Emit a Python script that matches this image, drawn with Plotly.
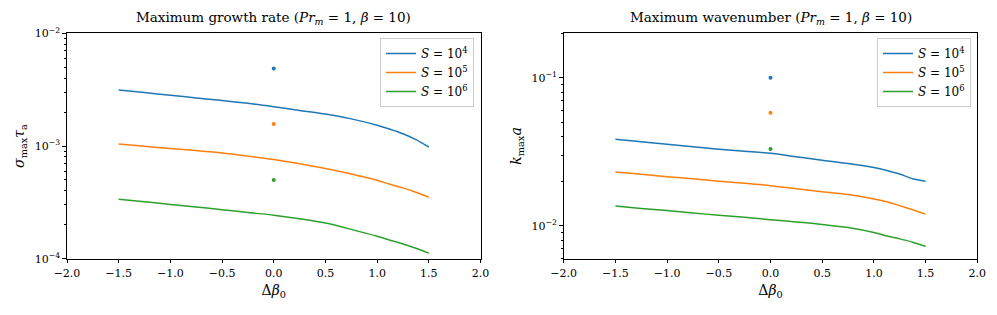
import plotly.graph_objects as go

# ---------------- data ----------------
delta_beta0 = [-1.5, -1.25, -1.0, -0.75, -0.5, -0.25, 0.0, 0.25, 0.5, 0.75, 1.0, 1.125, 1.25, 1.375, 1.5]

S_labels = ["<i>S</i> = 10<sup>4</sup>", "<i>S</i> = 10<sup>5</sup>", "<i>S</i> = 10<sup>6</sup>"]
colors = ["#1f77b4", "#ff7f0e", "#2ca02c"]

# maximum growth rate sigma_max * tau_a
sigma_S4 = [3.14e-3, 2.98e-3, 2.82e-3, 2.67e-3, 2.53e-3, 2.39e-3, 2.23e-3, 2.07e-3, 1.92e-3, 1.74e-3, 1.53e-3, 1.41e-3, 1.285e-3, 1.14e-3, 9.8e-4]
sigma_S5 = [1.04e-3, 9.95e-4, 9.5e-4, 9.1e-4, 8.67e-4, 8.13e-4, 7.59e-4, 6.97e-4, 6.31e-4, 5.65e-4, 4.97e-4, 4.57e-4, 4.25e-4, 3.89e-4, 3.51e-4]
sigma_S6 = [3.37e-4, 3.20e-4, 3.03e-4, 2.88e-4, 2.72e-4, 2.57e-4, 2.43e-4, 2.26e-4, 2.07e-4, 1.82e-4, 1.58e-4, 1.46e-4, 1.35e-4, 1.236e-4, 1.12e-4]

# maximum wavenumber k_max * a
k_S4 = [0.0385, 0.0370, 0.0356, 0.0342, 0.0329, 0.0319, 0.0309, 0.0293, 0.0278, 0.0264, 0.0248, 0.0237, 0.0224, 0.0208, 0.0200]
k_S5 = [0.0231, 0.0223, 0.0215, 0.0208, 0.0200, 0.0194, 0.0187, 0.0178, 0.0170, 0.0163, 0.0152, 0.01456, 0.0137, 0.01285, 0.0120]
k_S6 = [0.0136, 0.0131, 0.01268, 0.01222, 0.0118, 0.01143, 0.0110, 0.01064, 0.01023, 0.00975, 0.00902, 0.00855, 0.00817, 0.00776, 0.00728]

# single points at delta_beta0 = 0
dot_x = [0.0]
sigma_dots = [4.87e-3, 1.57e-3, 4.99e-4]
k_dots = [0.100, 0.058, 0.033]

x_ticks = [-2.0, -1.5, -1.0, -0.5, 0.0, 0.5, 1.0, 1.5, 2.0]
x_ticktext = ["−2.0", "−1.5", "−1.0", "−0.5", "0.0", "0.5", "1.0", "1.5", "2.0"]

# ---------------- figure ----------------
FONT = "DejaVu Serif"
fig = go.Figure()

sig_series = [sigma_S4, sigma_S5, sigma_S6]
k_series = [k_S4, k_S5, k_S6]

for i in range(3):
    fig.add_trace(go.Scatter(x=delta_beta0, y=sig_series[i], mode="lines", name=S_labels[i],
                             line=dict(color=colors[i], width=1.5, shape="spline", smoothing=0.8),
                             xaxis="x", yaxis="y", legend="legend"))
for i in range(3):
    fig.add_trace(go.Scatter(x=dot_x, y=[sigma_dots[i]], mode="markers", showlegend=False,
                             marker=dict(color=colors[i], size=4), xaxis="x", yaxis="y"))
for i in range(3):
    fig.add_trace(go.Scatter(x=delta_beta0, y=k_series[i], mode="lines", name=S_labels[i],
                             line=dict(color=colors[i], width=1.5, shape="spline", smoothing=0.8),
                             xaxis="x2", yaxis="y2", legend="legend2"))
for i in range(3):
    fig.add_trace(go.Scatter(x=dot_x, y=[k_dots[i]], mode="markers", showlegend=False,
                             marker=dict(color=colors[i], size=4), xaxis="x2", yaxis="y2"))

W, H = 997, 315
ydom = [1 - 258.7 / H, 1 - 33.3 / H]
xdom1 = [67.0 / W, 480.5 / W]
xdom2 = [563.7 / W, 977.3 / W]

def minor_log(lo_dec, hi_dec, extra=()):
    vals = []
    for d in range(lo_dec, hi_dec):
        for m in range(2, 10):
            vals.append(m * 10.0 ** d)
    return vals + list(extra)

common_x = dict(range=[-2, 2], tickvals=x_ticks, ticktext=x_ticktext, ticks="outside", ticklen=3.5,
                tickwidth=1, tickcolor="black", showline=True, linecolor="black", linewidth=1.2,
                mirror=True, showgrid=False, zeroline=False, automargin=False,
                tickfont=dict(family=FONT, size=11, color="black"),
                title=dict(text="Δ<i>β</i><sub>0</sub>", font=dict(family=FONT, size=14, color="black"), standoff=6))
common_y = dict(type="log", ticks="outside", ticklen=3.5, tickwidth=1, tickcolor="black", automargin=False,
                showline=True, linecolor="black", linewidth=1.2, mirror=True, showgrid=False, zeroline=False,
                tickfont=dict(family=FONT, size=11, color="black"))

fig.update_layout(
    width=W, height=H,
    margin=dict(l=0, r=0, t=0, b=0, autoexpand=False),
    paper_bgcolor="white", plot_bgcolor="white",
    font=dict(family=FONT, color="black"),
    xaxis=dict(domain=xdom1, anchor="y", **common_x),
    xaxis2=dict(domain=xdom2, anchor="y2", **common_x),
    yaxis=dict(domain=ydom, anchor="x", range=[-4, -2],
               tickvals=[1e-4, 1e-3, 1e-2],
               ticktext=["10<sup>−4</sup>", "10<sup>−3</sup>", "10<sup>−2</sup>"],
               minor=dict(tickvals=minor_log(-4, -2), ticks="outside", ticklen=2, tickcolor="black", showgrid=False),
               title=dict(text="<i>σ</i><sub>max</sub><i>τ</i><sub>a</sub>", font=dict(family=FONT, size=14, color="black"), standoff=6),
               **common_y),
    yaxis2=dict(domain=ydom, anchor="x2", range=[-2.2218, -0.699],
                tickvals=[1e-2, 1e-1],
                ticktext=["10<sup>−2</sup>", "10<sup>−1</sup>"],
                minor=dict(tickvals=minor_log(-3, -1, extra=(2e-1,)), ticks="outside", ticklen=2, tickcolor="black", showgrid=False),
                title=dict(text="<i>k</i><sub>max</sub><i>a</i>", font=dict(family=FONT, size=14, color="black"), standoff=6),
                **common_y),
    legend=dict(x=474 / W, y=1 - 38 / H, xanchor="right", yanchor="top", bgcolor="rgba(255,255,255,0.8)",
                bordercolor="#cccccc", borderwidth=1, font=dict(family=FONT, size=12, color="black"),
                tracegroupgap=0, itemwidth=30),
    legend2=dict(x=971 / W, y=1 - 38 / H, xanchor="right", yanchor="top", bgcolor="rgba(255,255,255,0.8)",
                 bordercolor="#cccccc", borderwidth=1, font=dict(family=FONT, size=12, color="black"),
                 tracegroupgap=0, itemwidth=30),
    annotations=[
        dict(text="Maximum growth rate (<i>Pr</i><sub><i>m</i></sub> = 1, <i>β</i> = 10)", x=(xdom1[0] + xdom1[1]) / 2,
             y=1 - 18 / H, xref="paper", yref="paper", showarrow=False, xanchor="center", yanchor="middle",
             font=dict(family=FONT, size=13.5, color="black")),
        dict(text="Maximum wavenumber (<i>Pr</i><sub><i>m</i></sub> = 1, <i>β</i> = 10)", x=(xdom2[0] + xdom2[1]) / 2,
             y=1 - 18 / H, xref="paper", yref="paper", showarrow=False, xanchor="center", yanchor="middle",
             font=dict(family=FONT, size=13.5, color="black")),
    ],
)

fig.write_html("out.html", config={"displayModeBar": False},
               post_script="document.body.style.margin='0';document.body.style.padding='0';"
                           "document.body.style.overflow='hidden';")
